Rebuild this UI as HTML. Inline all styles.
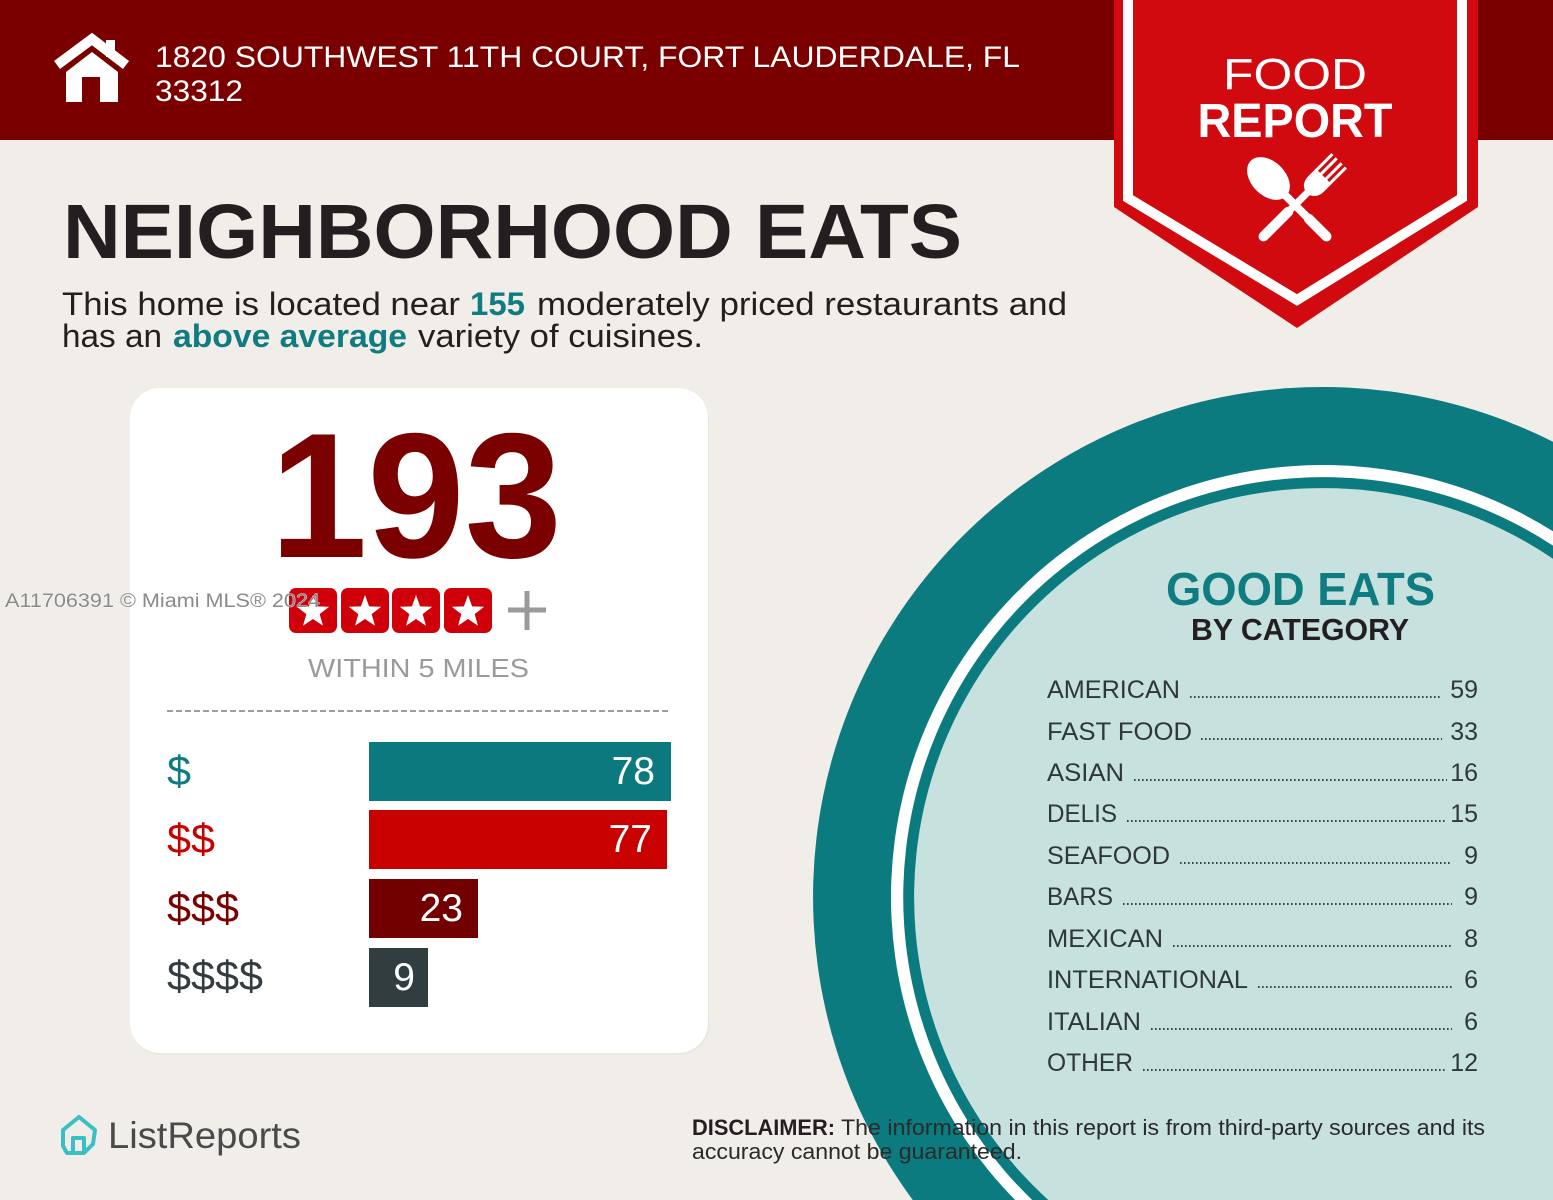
<!DOCTYPE html>
<html>
<head>
<meta charset="utf-8">
<style>
html,body{margin:0;padding:0;background:#f1ede9;width:1553px;height:1200px;overflow:hidden;}
svg{display:block;overflow:hidden;}
text{font-family:"Liberation Sans",sans-serif;}
</style>
</head>
<body>
<svg width="1553" height="1200" viewBox="0 0 1553 1200" xmlns="http://www.w3.org/2000/svg">
  <rect x="0" y="0" width="1553" height="1200" fill="#f1ede9"/>
  <!-- header -->
  <rect x="0" y="0" width="1553" height="140" fill="#7a0000"/>
  <!-- house icon -->
  <polyline points="57,65 92,39 126,65" fill="none" stroke="#fff" stroke-width="10" stroke-linejoin="miter"/>
  <rect x="106" y="40" width="9" height="17" fill="#fff"/>
  <polygon points="66,102 66,72 92,52 118,72 118,102" fill="#fff"/>
  <rect x="82" y="77" width="18" height="25" fill="#7a0000"/>
  <text x="155" y="67" font-size="30" fill="#fff" textLength="865" lengthAdjust="spacingAndGlyphs">1820 SOUTHWEST 11TH COURT, FORT LAUDERDALE, FL</text>
  <text x="155" y="101" font-size="30" fill="#fff" textLength="88" lengthAdjust="spacingAndGlyphs">33312</text>

  <!-- banner -->
  <polygon points="1114,0 1478,0 1478,207 1297,328 1114,207" fill="#d00a0e"/>
  <polyline points="1128,0 1128,198 1297,300 1462,198 1462,0" fill="none" stroke="#fff" stroke-width="10" stroke-linejoin="miter"/>
  <text x="1295" y="89" font-size="44" fill="#fff" text-anchor="middle" textLength="144" lengthAdjust="spacingAndGlyphs">FOOD</text>
  <text x="1295" y="137" font-size="48" font-weight="bold" fill="#fff" text-anchor="middle" textLength="195" lengthAdjust="spacingAndGlyphs">REPORT</text>
  <!-- spoon -->
  <g transform="rotate(-45 1330 240)" fill="#fff">
    <ellipse cx="1330" cy="153" rx="17" ry="25"/>
    <rect x="1326" y="170" width="8" height="70" rx="4"/>
    <rect x="1325" y="205" width="10" height="35" rx="5"/>
  </g>
  <!-- fork -->
  <g transform="rotate(45 1260 240)" fill="#fff">
    <rect x="1255" y="195" width="10" height="45" rx="5"/>
    <rect x="1256.5" y="165" width="7" height="40"/>
    <path d="M1249,150 L1271,150 L1271,160 Q1271,172 1260,174 Q1249,172 1249,160 Z"/>
    <rect x="1249" y="128" width="3" height="24"/>
    <rect x="1255" y="128" width="3" height="24"/>
    <rect x="1262" y="128" width="3" height="24"/>
    <rect x="1268" y="128" width="3" height="24"/>
  </g>

  <!-- title -->
  <text x="63" y="258" font-size="77" font-weight="bold" fill="#231f20" textLength="899" lengthAdjust="spacingAndGlyphs">NEIGHBORHOOD EATS</text>
  <text x="62" y="315" font-size="32" fill="#231f20" textLength="398" lengthAdjust="spacingAndGlyphs">This home is located near</text>
  <text x="470" y="315" font-size="32" font-weight="bold" fill="#0e7c80" textLength="55" lengthAdjust="spacingAndGlyphs">155</text>
  <text x="537" y="315" font-size="32" fill="#231f20" textLength="530" lengthAdjust="spacingAndGlyphs">moderately priced restaurants and</text>
  <text x="62" y="347" font-size="32" fill="#231f20" textLength="100" lengthAdjust="spacingAndGlyphs">has an</text>
  <text x="173" y="347" font-size="32" font-weight="bold" fill="#0e7c80" textLength="234" lengthAdjust="spacingAndGlyphs">above average</text>
  <text x="418" y="347" font-size="32" fill="#231f20" textLength="285" lengthAdjust="spacingAndGlyphs">variety of cuisines.</text>

  <!-- card -->
  <rect x="131" y="390" width="578" height="665" rx="30" fill="#e6e1dc" opacity="0.6"/>
  <rect x="130" y="388" width="578" height="665" rx="30" fill="#ffffff"/>
  <text x="270" y="557" font-size="178" font-weight="bold" fill="#7b0000" textLength="292" lengthAdjust="spacingAndGlyphs">193</text>

  <!-- stars -->
  <g>
    <rect x="289" y="588" width="48" height="45" rx="7" fill="#d0000a"/>
    <rect x="341" y="588" width="48" height="45" rx="7" fill="#d0000a"/>
    <rect x="392" y="588" width="48" height="45" rx="7" fill="#d0000a"/>
    <rect x="444" y="588" width="48" height="45" rx="7" fill="#d0000a"/>
    <g fill="#fff">
      <polygon transform="translate(313 612)" points="0,-17 4.11,-5.66 16.17,-5.25 6.66,2.16 9.99,13.75 0,7 -9.99,13.75 -6.66,2.16 -16.17,-5.25 -4.11,-5.66"/>
      <polygon transform="translate(365 612)" points="0,-17 4.11,-5.66 16.17,-5.25 6.66,2.16 9.99,13.75 0,7 -9.99,13.75 -6.66,2.16 -16.17,-5.25 -4.11,-5.66"/>
      <polygon transform="translate(416 612)" points="0,-17 4.11,-5.66 16.17,-5.25 6.66,2.16 9.99,13.75 0,7 -9.99,13.75 -6.66,2.16 -16.17,-5.25 -4.11,-5.66"/>
      <polygon transform="translate(468 612)" points="0,-17 4.11,-5.66 16.17,-5.25 6.66,2.16 9.99,13.75 0,7 -9.99,13.75 -6.66,2.16 -16.17,-5.25 -4.11,-5.66"/>
    </g>
    <line x1="508" y1="610" x2="546" y2="610" stroke="#9a9a9a" stroke-width="5"/>
    <line x1="527" y1="591" x2="527" y2="630" stroke="#9a9a9a" stroke-width="5"/>
  </g>
  <!-- watermark -->
  <text x="5" y="607" font-size="19" fill="#8a8a8a" stroke="#ffffff" stroke-width="0.6" paint-order="stroke" textLength="315" lengthAdjust="spacingAndGlyphs">A11706391 © Miami MLS® 2024</text>

  <text x="308" y="677" font-size="26" fill="#9a9a9a" textLength="221" lengthAdjust="spacingAndGlyphs">WITHIN 5 MILES</text>
  <line x1="167" y1="711" x2="670" y2="711" stroke="#9d9d9d" stroke-width="2" stroke-dasharray="6,3"/>

  <!-- bars -->
  <text x="167" y="785" font-size="42" fill="#0e7c80" textLength="24" lengthAdjust="spacingAndGlyphs">$</text>
  <text x="167" y="853" font-size="42" fill="#c80000" textLength="48" lengthAdjust="spacingAndGlyphs">$$</text>
  <text x="167" y="922" font-size="42" fill="#7b0000" textLength="72" lengthAdjust="spacingAndGlyphs">$$$</text>
  <text x="167" y="990" font-size="42" fill="#333d3f" textLength="96" lengthAdjust="spacingAndGlyphs">$$$$</text>

  <rect x="369" y="742" width="302" height="59" fill="#0b797d"/>
  <rect x="369" y="810" width="298" height="59" fill="#c80000"/>
  <rect x="369" y="879" width="109" height="59" fill="#730000"/>
  <rect x="369" y="948" width="59" height="59" fill="#323d3f"/>
  <text x="655" y="784" font-size="39" fill="#fff" text-anchor="end">78</text>
  <text x="652" y="852" font-size="39" fill="#fff" text-anchor="end">77</text>
  <text x="463" y="921" font-size="39" fill="#fff" text-anchor="end">23</text>
  <text x="415" y="990" font-size="39" fill="#fff" text-anchor="end">9</text>

  <!-- good eats circle (clipped arcs, center 1323,897) -->
  <path d="M1553,441.8 A510,510 0 0 0 912.8,1200 L1553,1200 Z" fill="#0b7b7f"/>
  <path d="M1553,531.3 A432,432 0 0 0 1015.1,1200 L1553,1200 Z" fill="#ffffff"/>
  <path d="M1553,545.6 A420,420 0 0 0 1032.2,1200 L1553,1200 Z" fill="#0b7b7f"/>
  <path d="M1553,558.8 A409,409 0 0 0 1048.3,1200 L1553,1200 Z" fill="#c7e1de"/>

  <text x="1166" y="605" font-size="46" font-weight="bold" fill="#0e7c80" textLength="269" lengthAdjust="spacingAndGlyphs">GOOD EATS</text>
  <text x="1191" y="640" font-size="31" font-weight="bold" fill="#231f20" textLength="218" lengthAdjust="spacingAndGlyphs">BY CATEGORY</text>

  <g font-size="25" fill="#2f3839">
    <text x="1047" y="698" textLength="133" lengthAdjust="spacingAndGlyphs">AMERICAN</text>
    <text x="1478" y="698" text-anchor="end">59</text>
    <text x="1047" y="740" textLength="145" lengthAdjust="spacingAndGlyphs">FAST FOOD</text>
    <text x="1478" y="740" text-anchor="end">33</text>
    <text x="1047" y="781" textLength="77" lengthAdjust="spacingAndGlyphs">ASIAN</text>
    <text x="1478" y="781" text-anchor="end">16</text>
    <text x="1047" y="822" textLength="70" lengthAdjust="spacingAndGlyphs">DELIS</text>
    <text x="1478" y="822" text-anchor="end">15</text>
    <text x="1047" y="864" textLength="123" lengthAdjust="spacingAndGlyphs">SEAFOOD</text>
    <text x="1478" y="864" text-anchor="end">9</text>
    <text x="1047" y="905" textLength="66" lengthAdjust="spacingAndGlyphs">BARS</text>
    <text x="1478" y="905" text-anchor="end">9</text>
    <text x="1047" y="947" textLength="116" lengthAdjust="spacingAndGlyphs">MEXICAN</text>
    <text x="1478" y="947" text-anchor="end">8</text>
    <text x="1047" y="988" textLength="201" lengthAdjust="spacingAndGlyphs">INTERNATIONAL</text>
    <text x="1478" y="988" text-anchor="end">6</text>
    <text x="1047" y="1030" textLength="94" lengthAdjust="spacingAndGlyphs">ITALIAN</text>
    <text x="1478" y="1030" text-anchor="end">6</text>
    <text x="1047" y="1071" textLength="86" lengthAdjust="spacingAndGlyphs">OTHER</text>
    <text x="1478" y="1071" text-anchor="end">12</text>
  </g>
  <g stroke="#3a4244" stroke-width="2" stroke-dasharray="1.6,2.4">
    <line x1="1190" y1="697" x2="1440" y2="697"/>
    <line x1="1201" y1="739" x2="1442" y2="739"/>
    <line x1="1134" y1="780" x2="1447" y2="780"/>
    <line x1="1127" y1="821" x2="1447" y2="821"/>
    <line x1="1180" y1="863" x2="1452" y2="863"/>
    <line x1="1123" y1="904" x2="1452" y2="904"/>
    <line x1="1173" y1="946" x2="1452" y2="946"/>
    <line x1="1258" y1="987" x2="1452" y2="987"/>
    <line x1="1151" y1="1029" x2="1452" y2="1029"/>
    <line x1="1143" y1="1070" x2="1447" y2="1070"/>
  </g>

  <!-- footer logo -->
  <g fill="none" stroke="#3cbfc3" stroke-width="4" stroke-linejoin="round">
    <path d="M79,1117 L95,1130 L93,1144 L84,1153 L67,1153 L63,1146 L63,1130 Z"/>
    <path d="M73,1152 L73,1138 L84,1138 L84,1153"/>
  </g>
  <text x="108" y="1148" font-size="37" fill="#4a4a4a" textLength="193" lengthAdjust="spacingAndGlyphs">ListReports</text>

  <!-- disclaimer -->
  <text x="692" y="1135" font-size="22" font-weight="bold" fill="#231f20" textLength="143" lengthAdjust="spacingAndGlyphs">DISCLAIMER:</text>
  <text x="841" y="1135" font-size="22" fill="#2a2a2a" textLength="644" lengthAdjust="spacingAndGlyphs">The information in this report is from third-party sources and its</text>
  <text x="692" y="1159" font-size="22" fill="#2a2a2a" textLength="330" lengthAdjust="spacingAndGlyphs">accuracy cannot be guaranteed.</text>
</svg>
</body>
</html>
